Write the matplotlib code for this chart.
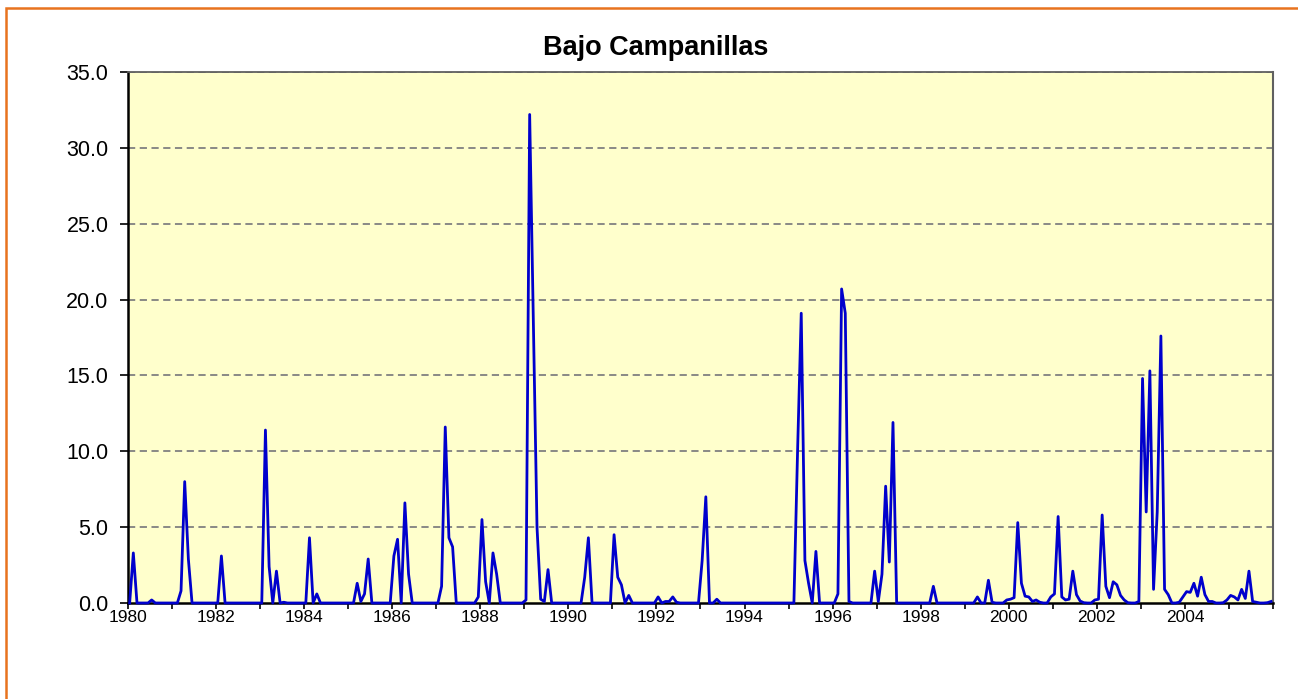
import matplotlib
matplotlib.use("Agg")
import matplotlib.pyplot as plt
import numpy as np
from matplotlib.patches import Rectangle

# monthly values, Jan..Dec, one row per year 1980-2005
years = list(range(1980, 2006))
flow = [
    0.0, 3.3, 0.0, 0.0, 0.0, 0.0, 0.2, 0.0, 0.0, 0.0, 0.0, 0.0,      # 1980
    0.0, 0.0, 0.8, 8.0, 2.9, 0.0, 0.0, 0.0, 0.0, 0.0, 0.0, 0.0,      # 1981
    0.0, 3.1, 0.0, 0.0, 0.0, 0.0, 0.0, 0.0, 0.0, 0.0, 0.0, 0.0,      # 1982
    0.0, 11.4, 2.4, 0.0, 2.1, 0.0, 0.05, 0.0, 0.0, 0.0, 0.0, 0.0,    # 1983
    0.0, 4.3, 0.0, 0.6, 0.0, 0.0, 0.0, 0.0, 0.0, 0.0, 0.0, 0.0,      # 1984
    0.0, 0.0, 1.3, 0.1, 0.6, 2.9, 0.0, 0.0, 0.0, 0.0, 0.0, 0.0,      # 1985
    3.1, 4.2, 0.0, 6.6, 1.9, 0.0, 0.0, 0.0, 0.0, 0.0, 0.0, 0.0,      # 1986
    0.0, 1.1, 11.6, 4.3, 3.7, 0.0, 0.0, 0.0, 0.0, 0.0, 0.0, 0.4,     # 1987
    5.5, 1.4, 0.0, 3.3, 1.9, 0.0, 0.0, 0.0, 0.0, 0.0, 0.0, 0.0,      # 1988
    0.2, 32.2, 18.5, 5.0, 0.25, 0.1, 2.2, 0.0, 0.0, 0.0, 0.0, 0.0,   # 1989
    0.0, 0.0, 0.0, 0.0, 1.7, 4.3, 0.0, 0.0, 0.0, 0.0, 0.0, 0.0,      # 1990
    4.5, 1.7, 1.2, 0.0, 0.5, 0.0, 0.0, 0.0, 0.0, 0.0, 0.0, 0.0,      # 1991
    0.4, 0.0, 0.1, 0.1, 0.4, 0.05, 0.0, 0.0, 0.0, 0.0, 0.0, 0.0,     # 1992
    2.8, 7.0, 0.0, 0.0, 0.25, 0.0, 0.0, 0.0, 0.0, 0.0, 0.0, 0.0,     # 1993
    0.0, 0.0, 0.0, 0.0, 0.0, 0.0, 0.0, 0.0, 0.0, 0.0, 0.0, 0.0,      # 1994
    0.0, 0.0, 10.0, 19.1, 2.8, 1.3, 0.0, 3.4, 0.0, 0.0, 0.0, 0.0,    # 1995
    0.0, 0.6, 20.7, 19.1, 0.1, 0.0, 0.0, 0.0, 0.0, 0.0, 0.0, 2.1,    # 1996
    0.1, 1.9, 7.7, 2.7, 11.9, 0.0, 0.0, 0.0, 0.0, 0.0, 0.0, 0.0,     # 1997
    0.0, 0.0, 0.0, 1.1, 0.0, 0.0, 0.0, 0.0, 0.0, 0.0, 0.0, 0.0,      # 1998
    0.0, 0.0, 0.0, 0.4, 0.0, 0.0, 1.5, 0.05, 0.0, 0.0, 0.0, 0.2,     # 1999
    0.25, 0.35, 5.3, 1.3, 0.45, 0.4, 0.1, 0.2, 0.05, 0.0, 0.0, 0.4,  # 2000
    0.6, 5.7, 0.4, 0.2, 0.25, 2.1, 0.55, 0.13, 0.02, 0.0, 0.0, 0.2,  # 2001
    0.25, 5.8, 1.1, 0.35, 1.4, 1.2, 0.5, 0.2, 0.02, 0.0, 0.0, 0.1,   # 2002
    14.8, 6.0, 15.3, 0.9, 6.0, 17.6, 0.9, 0.55, 0.0, 0.0, 0.05, 0.4, # 2003
    0.75, 0.7, 1.3, 0.45, 1.7, 0.55, 0.1, 0.1, 0.0, 0.0, 0.02, 0.2,  # 2004
    0.5, 0.4, 0.2, 0.9, 0.3, 2.1, 0.1, 0.05, 0.0, 0.0, 0.02, 0.1,    # 2005
]
y_ticks = [0, 5, 10, 15, 20, 25, 30, 35]
title = "Bajo Campanillas"

plt.rcParams['font.family'] = ['Liberation Sans', 'DejaVu Sans']

t = years[0] + (np.arange(len(flow)) + 0.45) / 12.0

fig = plt.figure(figsize=(12.98, 6.99), dpi=100)
ax = fig.add_axes([128/1298, 1 - 603/699, (1273-128)/1298, (603-72)/699])
ax.set_facecolor('#FFFFCC')

for v in y_ticks[1:]:
    ax.axhline(v, color='#808080', lw=1.3, ls=(0, (4, 2.5)), zorder=1)

ax.plot(t, flow, color='#0000CC', lw=2.0, zorder=3, clip_on=False)

ax.set_xlim(1980, 2006)
ax.set_ylim(0, 35)
ax.set_yticks(y_ticks)
ax.set_yticklabels(['%.1f' % v for v in y_ticks], fontsize=15.5)
yrs = list(range(1980, 2007))
ax.set_xticks(yrs)
ax.set_xticklabels([str(y) if y % 2 == 0 and y < 2006 else '' for y in yrs], fontsize=12.5)
ax.tick_params(axis='y', direction='out', length=6, width=1.2, pad=8)
ax.tick_params(axis='x', direction='out', length=4, width=1.2, pad=1)

for side in ['left', 'bottom']:
    ax.spines[side].set_color('black')
    ax.spines[side].set_linewidth(1.8)
ax.spines['right'].set_color('#606060')
ax.spines['right'].set_linewidth(1.5)
ax.spines['top'].set_color('#606060')
ax.spines['top'].set_linewidth(1.3)
ax.spines['top'].set_linestyle((0, (4, 1)))

fig.text(0.505, 1 - 48/699, title, ha='center', va='center',
         fontsize=19.5, fontweight='bold')

# outer chart frame
fig.add_artist(Rectangle((6/1298, -0.1), 1.2, 0.1 + 1 - 8/699,
                         transform=fig.transFigure, fill=False,
                         edgecolor='#E8731E', lw=1.8))

fig.savefig('out.png', dpi=100)
